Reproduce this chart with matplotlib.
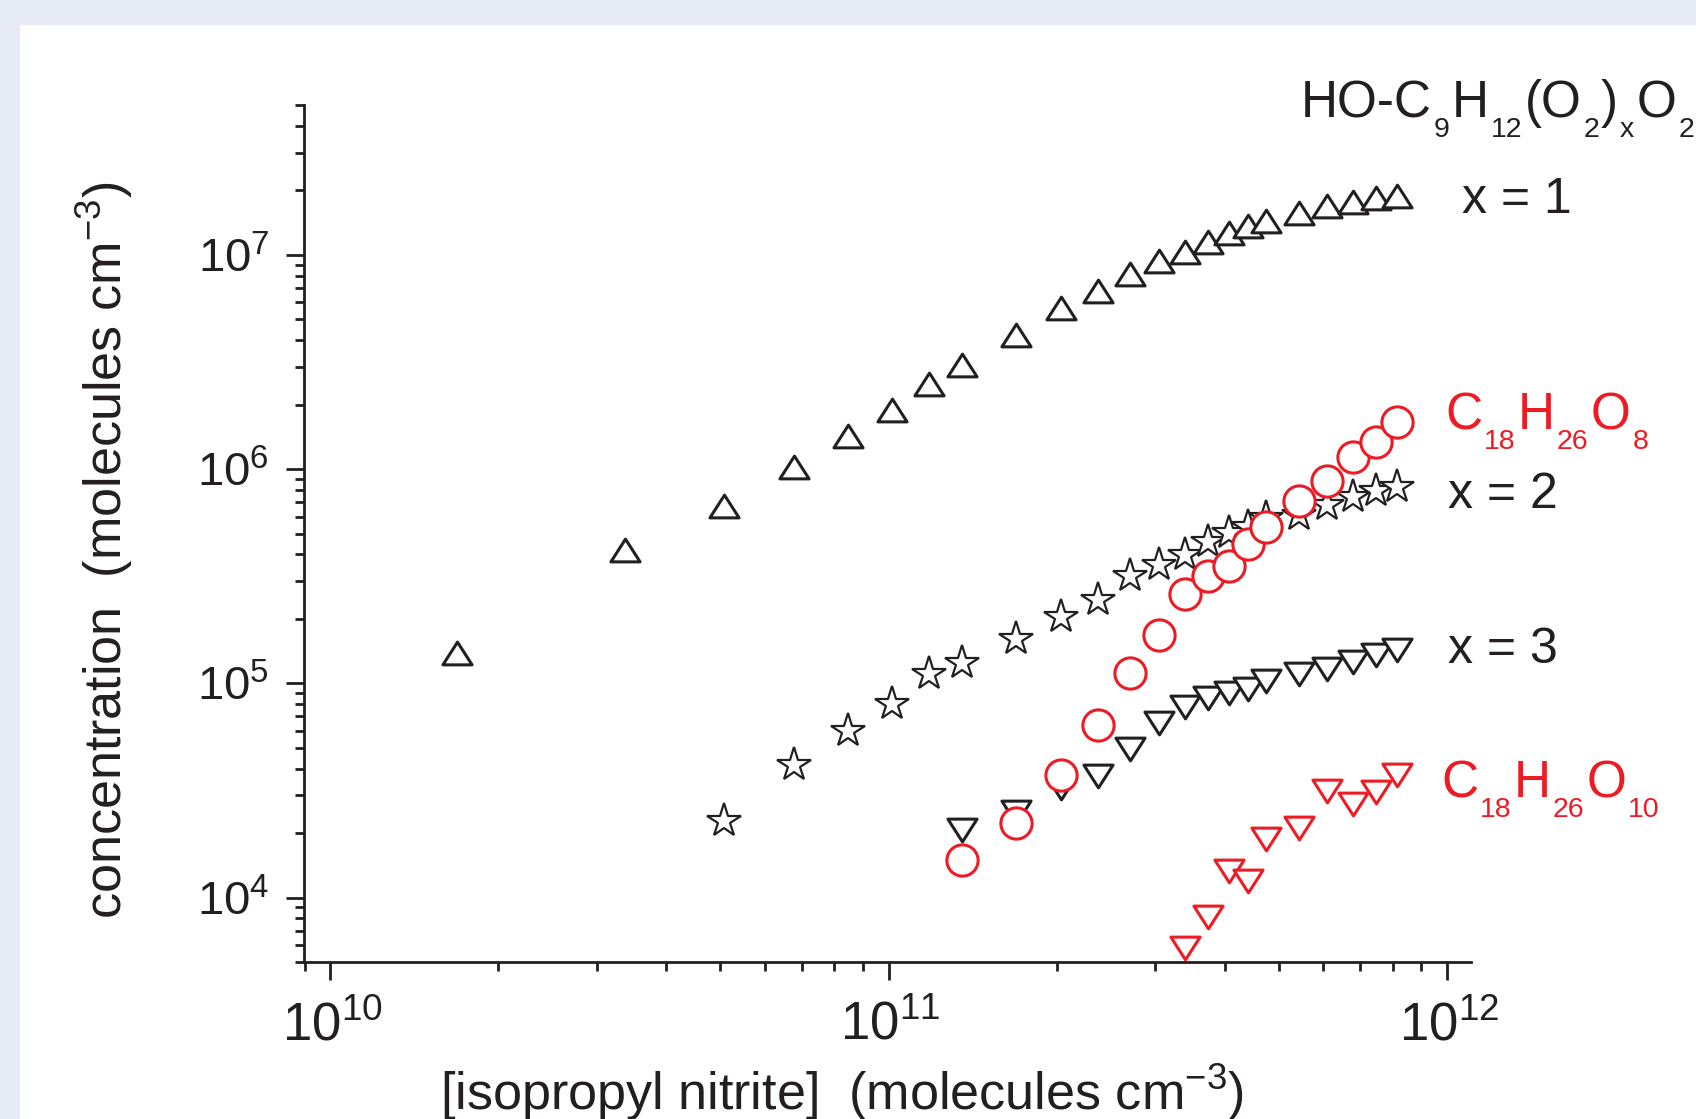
import numpy as np
import matplotlib
matplotlib.use("Agg")
import matplotlib.pyplot as plt
import matplotlib.font_manager as fm
from matplotlib.patches import Rectangle
from matplotlib.path import Path
from matplotlib.ticker import LogLocator, FuncFormatter, NullFormatter
from matplotlib.transforms import ScaledTranslation

W, H = 1696, 1119

# values
# HO-C9H12(O2)xO2, x = 1  (up triangles)
x1_nitrite = [1.69e10, 3.38e10, 5.07e10, 6.77e10, 8.47e10, 1.016e11, 1.183e11, 1.354e11,
              1.693e11, 2.033e11, 2.375e11, 2.707e11, 3.05e11, 3.395e11, 3.737e11, 4.076e11,
              4.41e11, 4.74e11, 5.43e11, 6.105e11, 6.78e11, 7.46e11, 8.15e11]
x1_conc = [1.39e5, 4.21e5, 6.70e5, 1.02e6, 1.42e6, 1.89e6, 2.50e6, 3.05e6,
           4.21e6, 5.62e6, 6.79e6, 8.15e6, 9.35e6, 1.03e7, 1.15e7, 1.27e7,
           1.36e7, 1.43e7, 1.57e7, 1.69e7, 1.77e7, 1.85e7, 1.88e7]

# x = 2  (stars)
x2_nitrite = [5.07e10, 6.77e10, 8.47e10, 1.016e11, 1.183e11, 1.354e11, 1.693e11, 2.033e11,
              2.375e11, 2.707e11, 3.05e11, 3.395e11, 3.737e11, 4.076e11, 4.41e11, 4.74e11,
              5.43e11, 6.105e11, 6.78e11, 7.46e11, 8.15e11]
x2_conc = [2.27e4, 4.15e4, 5.97e4, 8.04e4, 1.11e5, 1.24e5, 1.61e5, 2.03e5,
           2.44e5, 3.16e5, 3.56e5, 3.96e5, 4.56e5, 5.02e5, 5.36e5, 5.90e5,
           6.10e5, 6.79e5, 7.40e5, 7.89e5, 8.24e5]

# x = 3  (down triangles, black)
x3_nitrite = [1.354e11, 1.693e11, 2.033e11, 2.375e11, 2.707e11, 3.05e11, 3.395e11, 3.737e11,
              4.076e11, 4.41e11, 4.74e11, 5.43e11, 6.105e11, 6.78e11, 7.46e11, 8.15e11]
x3_conc = [2.07e4, 2.52e4, 3.23e4, 3.68e4, 4.92e4, 6.54e4, 7.72e4, 8.58e4,
           8.98e4, 9.45e4, 1.02e5, 1.10e5, 1.17e5, 1.26e5, 1.35e5, 1.43e5]

# C18H26O8  (circles, red)
o8_nitrite = [1.354e11, 1.693e11, 2.033e11, 2.375e11, 2.707e11, 3.05e11, 3.395e11, 3.737e11,
              4.076e11, 4.41e11, 4.74e11, 5.43e11, 6.105e11, 6.78e11, 7.46e11, 8.15e11]
o8_conc = [1.49e4, 2.23e4, 3.75e4, 6.36e4, 1.12e5, 1.68e5, 2.61e5, 3.17e5,
           3.52e5, 4.45e5, 5.36e5, 7.11e5, 8.79e5, 1.14e6, 1.33e6, 1.65e6]

# C18H26O10  (down triangles, red)
o10_nitrite = [3.395e11, 3.737e11, 4.076e11, 4.41e11, 4.74e11, 5.43e11, 6.105e11, 6.78e11,
               7.46e11, 8.15e11]
o10_conc = [5.84e3, 8.09e3, 1.33e4, 1.20e4, 1.87e4, 2.11e4, 3.14e4, 2.73e4, 3.10e4, 3.72e4]

BLACK = "#231f20"
RED = "#ed1c24"

names = {f.name for f in fm.fontManager.ttflist}
narrow = "Liberation Sans Narrow" if "Liberation Sans Narrow" in names else "Liberation Sans"
plt.rcParams["font.family"] = ["Liberation Sans", "DejaVu Sans"]


def fx(px):
    return px / W


def fy(py):
    return 1 - py / H


tri_up = Path([(0, 0.78), (-1, -0.78), (1, -0.78), (0, 0.78)], closed=True)
tri_dn = Path([(0, -0.78), (-1, 0.78), (1, 0.78), (0, -0.78)], closed=True)

fig = plt.figure(figsize=(W / 100, H / 100), dpi=100)
fig.patch.set_facecolor("#e7ebf6")
fig.patches.append(Rectangle((fx(20), 0), 1 - fx(20), fy(25), transform=fig.transFigure,
                             facecolor="white", edgecolor="none", zorder=-5))

ax = fig.add_axes([fx(304), fy(962), (1471 - 304) / W, (962 - 105) / H])
ax.set_facecolor("none")
ax.set_xscale("log")
ax.set_yscale("log")

style = dict(linestyle="none", markerfacecolor="white", clip_on=False)
ax.plot(x1_nitrite, x1_conc, marker=tri_up, ms=21, mew=2.2, color=BLACK, zorder=3, **style)
ax.plot(x2_nitrite, x2_conc, marker="*", ms=25.5, mew=1.6, color=BLACK, zorder=4, **style)
ax.plot(x3_nitrite, x3_conc, marker=tri_dn, ms=21, mew=2.2, color=BLACK, zorder=5, **style)
ax.plot(o8_nitrite, o8_conc, marker="o", ms=22.5, mew=2.2, color=RED, zorder=6, **style)
ax.plot(o10_nitrite, o10_conc, marker=tri_dn, ms=21, mew=2.2, color=RED, zorder=7, **style)

ax.set_xlim(8.98e9, 1.104e12)
ax.set_ylim(5e3, 5e7)

for s in ["top", "right"]:
    ax.spines[s].set_visible(False)
for s in ["left", "bottom"]:
    ax.spines[s].set_linewidth(2)
    ax.spines[s].set_color(BLACK)

dec = FuncFormatter(lambda v, p: r"$\mathregular{10^{%d}}$" % round(np.log10(v)))
for axis in (ax.xaxis, ax.yaxis):
    axis.set_major_locator(LogLocator(base=10))
    axis.set_minor_locator(LogLocator(base=10, subs=np.arange(2, 10)))
    axis.set_major_formatter(dec)
    axis.set_minor_formatter(NullFormatter())

ax.tick_params(which="major", direction="out", length=13, width=2, color=BLACK, labelcolor=BLACK)
ax.tick_params(which="minor", direction="out", length=6.5, width=2, color=BLACK)
ax.tick_params(axis="y", which="major", labelsize=34, pad=12)
ax.tick_params(axis="x", which="major", labelsize=38, pad=15, labelfontfamily=narrow)

# the "10" of each x label ends at its tick, the exponent hangs to the right
shift = ScaledTranslation(0.02, 0, fig.dpi_scale_trans)
for lbl in ax.xaxis.get_majorticklabels():
    lbl.set_transform(lbl.get_transform() + shift)

# axis titles (the original figure is cropped through the bottom of the x title)
fig.text(fx(842), fy(1110), r"[isopropyl nitrite]  (molecules cm$^{\mathregular{-3}}$)",
         fontsize=37.5, family=narrow, color=BLACK, ha="center", va="baseline")
fig.text(fx(105), fy(550), r"concentration  (molecules cm$^{\mathregular{-3}}$)",
         fontsize=37.5, family=narrow, color=BLACK, ha="center", va="center", rotation=90)

# series labels, written piece by piece so subscripts sit low as in the original
renderer = fig.canvas.get_renderer()


def formula(x_px, y_px, parts, color):
    x = x_px
    for text, sub in parts:
        size = 20.5 if sub else 37
        drop = 20 if sub else 0
        gap = 2 if sub else 0
        t = fig.text(fx(x + gap), fy(y_px + drop), text, fontsize=size, color=color, va="baseline")
        x += t.get_window_extent(renderer).width + 2 * gap


formula(1301, 117, [("HO-C", 0), ("9", 1), ("H", 0), ("12", 1), ("(O", 0), ("2", 1),
                    (")", 0), ("x", 1), ("O", 0), ("2", 1)], BLACK)
formula(1445, 429, [("C", 0), ("18", 1), ("H", 0), ("26", 1), ("O", 0), ("8", 1)], RED)
formula(1441, 797, [("C", 0), ("18", 1), ("H", 0), ("26", 1), ("O", 0), ("10", 1)], RED)
fig.text(fx(1462), fy(213), "x = 1", fontsize=36, color=BLACK, va="baseline")
fig.text(fx(1448), fy(508), "x = 2", fontsize=36, color=BLACK, va="baseline")
fig.text(fx(1448), fy(663), "x = 3", fontsize=36, color=BLACK, va="baseline")

fig.savefig("out.png", dpi=100, facecolor=fig.get_facecolor())
